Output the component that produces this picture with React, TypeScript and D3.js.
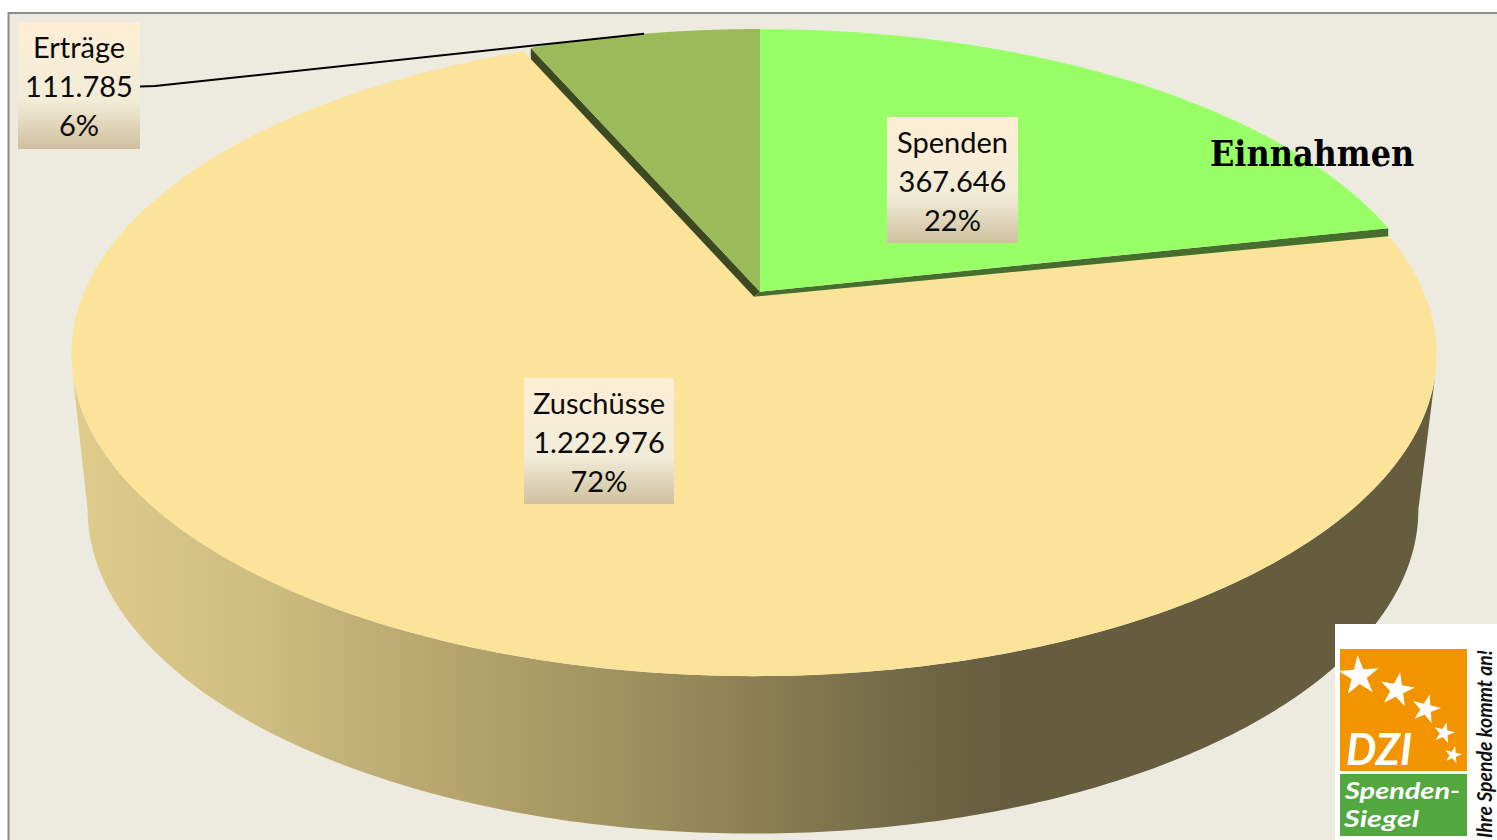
import React from "react";
import * as d3 from "d3";

const categories = ["Spenden", "Zuschüsse", "Erträge"];
const seriesValues = [367646, 1222976, 111785];
const percentLabels = ["22%", "72%", "6%"];
const title = "Einnahmen";
const sealLines = ["DZI", "Spenden-", "Siegel", "Ihre Spende kommt an!"];

const W = 1497;
const H = 840;
const K = 0.184;
type Plane = { x0: number; y0: number; A: number; B: number };
const topGreen: Plane = { x0: 760, y0: 291.7, A: 668, B: 311 };
const topYellow: Plane = { x0: 754, y0: 295, A: 671, B: 311 };
const bottomPlane: Plane = { x0: 753, y0: 450, A: 654, B: 313 };

const project = (p: Plane, a: number): [number, number] => {
  const u = Math.sin(a);
  const v = -Math.cos(a);
  const w = 1 - K * v;
  return [p.x0 + (p.A * u) / w, p.y0 + (p.B * v) / w];
};

const fmt = d3.formatLocale({ decimal: ",", thousands: ".", grouping: [3], currency: ["", "€"] }).format(",d");
const arcs = d3.pie<number>().sort(null)(seriesValues);
const line = d3.line();

const sample = (p: Plane, a0: number, a1: number) =>
  d3.range(0, 241).map((i) => project(p, a0 + ((a1 - a0) * i) / 240));

const wedge = (p: Plane, a0: number, a1: number) =>
  line([[p.x0, p.y0], ...sample(p, a0, a1)]) + "Z";

const extreme = Math.acos(-K); // angle where the projected circle is widest
const wallPath =
  line([
    ...sample(topYellow, extreme + 0.06, 2 * Math.PI - extreme - 0.06),
    ...sample(bottomPlane, 2 * Math.PI - extreme, extreme),
  ]) + "Z";

const edgeWall = (a: number, dropOuter: number, dropInner: number) => {
  const c = project(topGreen, a);
  return (
    line([
      [topGreen.x0, topGreen.y0],
      c,
      [c[0], c[1] + dropOuter],
      [topGreen.x0 - 6, topGreen.y0 + dropInner],
    ]) + "Z"
  );
};

const sliceFill = ["#99ff66", "#fbe499", "#9bba59"];
const labelBoxes = [
  { x: 887, y: 117, w: 131, h: 126 },
  { x: 524, y: 378, w: 150, h: 126 },
  { x: 18, y: 22, w: 122, h: 127 },
];
const wallStops: [number, string][] = [
  [72, "#dfcb8c"],
  [250, "#d0bf82"],
  [400, "#bcab72"],
  [600, "#a39561"],
  [800, "#85794f"],
  [900, "#736a48"],
  [1010, "#665c3e"],
  [1440, "#665c3e"],
];
const stars: [number, number, number, number][] = [
  [1359, 676, 21, -4],
  [1397, 690, 18, 10],
  [1426, 709, 15, 14],
  [1444, 733, 11, 14],
  [1453, 755, 9, 14],
];
const star = d3.symbol().type(d3.symbolStar);
const xGrad = d3.scaleLinear().domain([72, 1440]).range([0, 1]);

export default function App() {
  const leaderCorner = project(topGreen, (arcs[2].startAngle + arcs[2].endAngle) / 2);
  return (
    <svg width={W} height={H} style={{ position: "absolute", left: 0, top: 0, display: "block" }}>
      <defs>
        <linearGradient id="wall" x1="0" x2="1" y1="0" y2="0">
          {wallStops.map(([x, c]) => (
            <stop key={x} offset={xGrad(x)} stopColor={c} />
          ))}
        </linearGradient>
        <linearGradient id="lab" x1="0" x2="0" y1="0" y2="1">
          <stop offset="0" stopColor="#feeed5" />
          <stop offset="0.62" stopColor="#f2ecd8" />
          <stop offset="1" stopColor="#cfc09f" />
        </linearGradient>
      </defs>
      <rect x={0} y={0} width={W} height={H} fill="#ffffff" />
      <rect x={8.5} y={13} width={W} height={H} fill="#edebe0" stroke="#8c8c8c" strokeWidth={2} />

      <path d={wallPath} fill="url(#wall)" />
      <path d={wedge(topYellow, arcs[1].startAngle, arcs[1].endAngle)} fill={sliceFill[1]} />
      <path d={edgeWall(arcs[2].startAngle, 11, 5)} fill="#3d4a21" />
      <path d={edgeWall(arcs[0].endAngle, 8, 5)} fill="#466e2f" />
      <path d={wedge(topGreen, arcs[0].startAngle, arcs[0].endAngle)} fill={sliceFill[0]} />
      <path d={wedge(topGreen, arcs[2].startAngle, arcs[2].endAngle)} fill={sliceFill[2]} />

      <path
        d={line([
          [140, 86.5],
          [155, 86],
          leaderCorner,
        ]) as string}
        fill="none"
        stroke="#000000"
        strokeWidth={2}
      />

      {categories.map((c, i) => {
        const b = labelBoxes[i];
        const cx = b.x + b.w / 2;
        const fs = { fontFamily: "Lato, sans-serif", fontSize: 29, fill: "#0b0b0b", textAnchor: "middle" as const };
        return (
          <g key={c}>
            <rect x={b.x} y={b.y} width={b.w} height={b.h} fill="url(#lab)" />
            <text x={cx} y={b.y + 35.5} {...fs}>{c}</text>
            <text x={cx} y={b.y + 74.5} {...fs}>{fmt(seriesValues[i])}</text>
            <text x={cx} y={b.y + 113.5} {...fs}>{percentLabels[i]}</text>
          </g>
        );
      })}

      <text x={1210} y={166} fontFamily="'DejaVu Serif Condensed', 'DejaVu Serif', serif" fontWeight="bold" fontSize={35.5} fill="#000000">
        {title}
      </text>

      <rect x={1335} y={624} width={162} height={216} fill="#ffffff" />
      <rect x={1340} y={649} width={127} height={122} fill="#f29400" />
      <rect x={1340} y={774} width={127} height={62} fill="#52a83f" />
      {stars.map(([x, y, r, rot]) => (
        <path
          key={x}
          d={star.size((r * r) / 0.8908)() as string}
          transform={`translate(${x},${y}) rotate(${rot})`}
          fill="#ffffff"
        />
      ))}
      <text x={1346} y={765} fontFamily="Lato, sans-serif" fontStyle="italic" fontWeight="bold" fontSize={43} fill="#ffffff">
        {sealLines[0]}
      </text>
      <text x={1345} y={799} fontFamily="Lato, sans-serif" fontStyle="italic" fontWeight="bold" fontSize={23} fill="#ffffff" textLength={115} lengthAdjust="spacingAndGlyphs">
        {sealLines[1]}
      </text>
      <text x={1344} y={827} fontFamily="Lato, sans-serif" fontStyle="italic" fontWeight="bold" fontSize={23} fill="#ffffff" textLength={75} lengthAdjust="spacingAndGlyphs">
        {sealLines[2]}
      </text>
      <text
        transform="translate(1492,838) rotate(-90)"
        fontFamily="Lato, sans-serif"
        fontStyle="italic"
        fontWeight="bold"
        fontSize={20}
        fill="#111111"
        textLength={188}
        lengthAdjust="spacingAndGlyphs"
      >
        {sealLines[3]}
      </text>
    </svg>
  );
}
